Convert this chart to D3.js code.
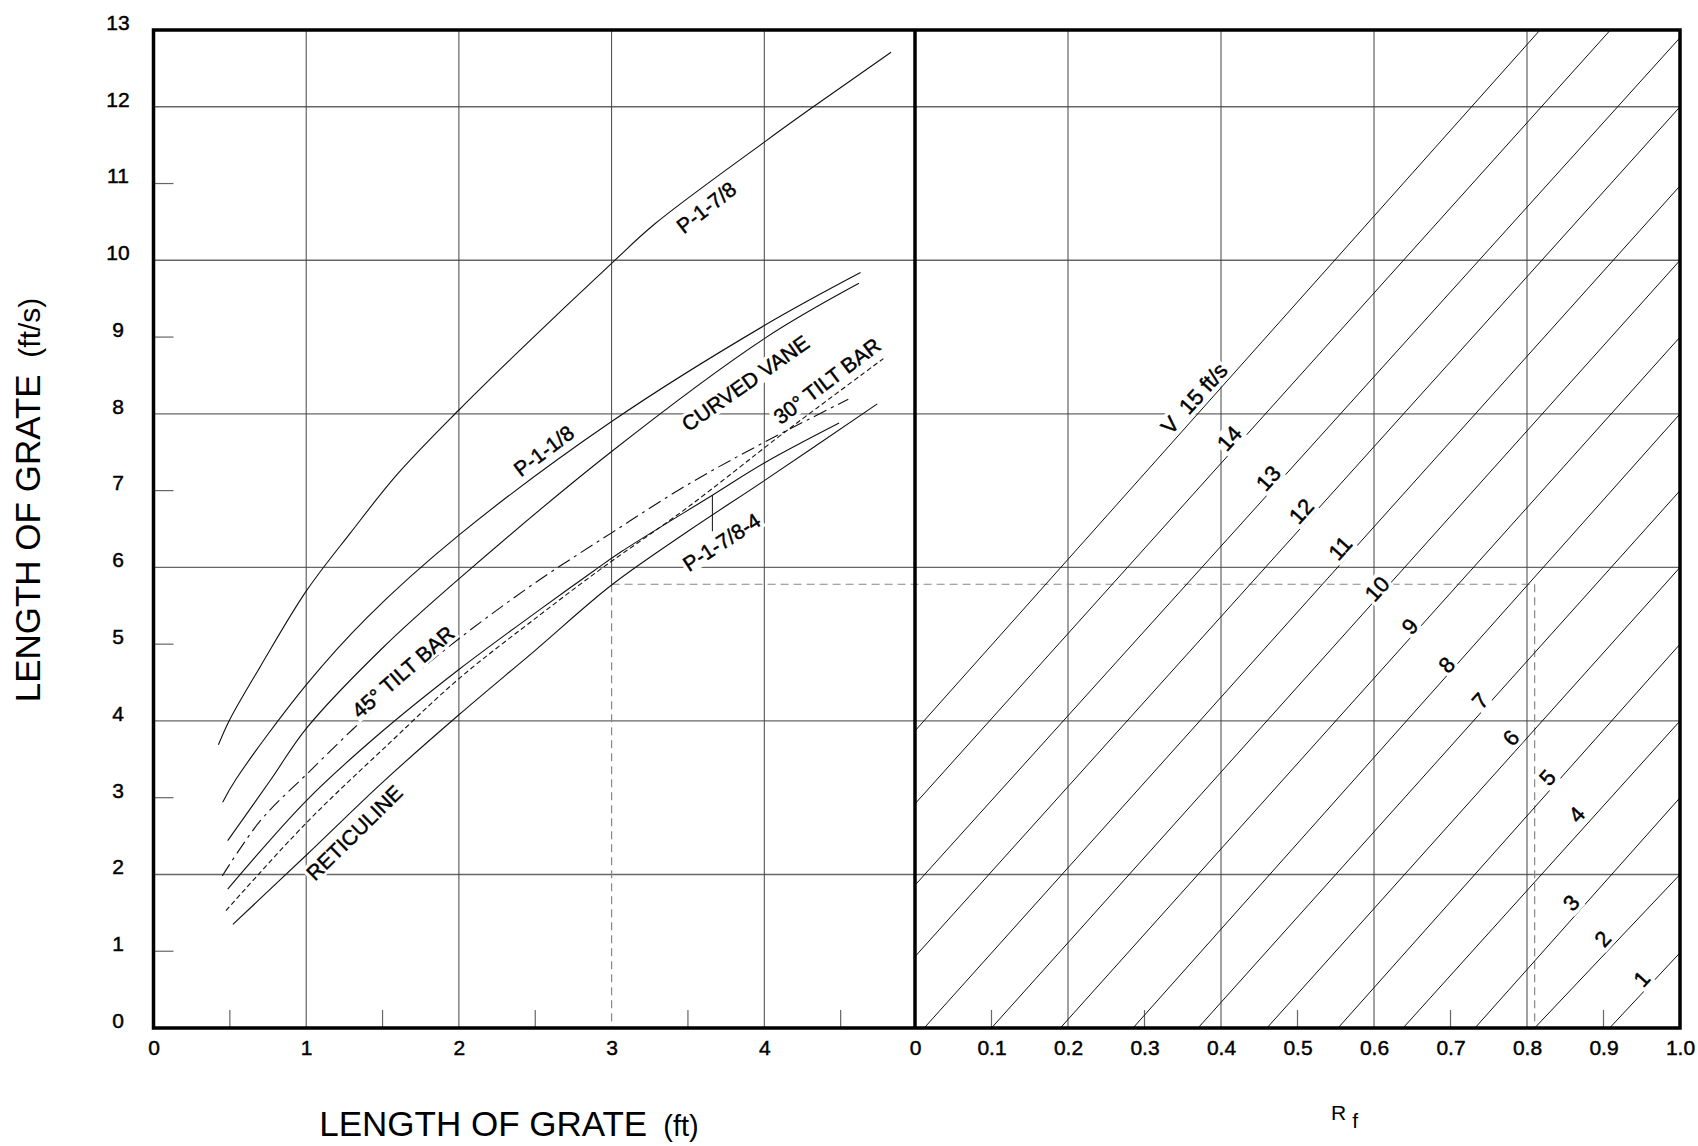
<!DOCTYPE html>
<html>
<head>
<meta charset="utf-8">
<script src="https://cdn.jsdelivr.net/npm/d3@7/dist/d3.min.js"></script>
<style>
    body { margin: 0; background: #fff; }
    text { font-family: "Liberation Sans", Arial, Helvetica, sans-serif; fill: #000; }
    .heavy { stroke: #000; stroke-width: 0.45px; }
</style>
</head>
<body>
<div id="chart"></div>
<script>
// ---- left panel curves: [length of grate (ft), value (ft/s)] ----
var p178 = [[0.425, 3.69], [0.5, 4.02], [0.7, 4.71], [1.0, 5.69], [1.29, 6.45], [1.6, 7.22], [2.0, 8.05], [2.4, 8.83], [3.0, 9.96], [3.28, 10.47], [4.0, 11.54], [4.3, 11.97], [4.83, 12.71]];
var p118 = [[0.453, 2.94], [0.54, 3.24], [1.0, 4.47], [1.4, 5.35], [2.0, 6.42], [3.0, 7.9], [4.0, 9.15], [4.63, 9.84]];
var curvedVane = [[0.486, 2.44], [0.77, 3.24], [1.0, 3.9], [1.5, 4.95], [2.0, 5.85], [3.0, 7.51], [4.0, 8.98], [4.62, 9.7]];
var tilt45 = [[0.45, 1.98], [0.7, 2.7], [1.0, 3.3], [1.5, 4.25], [2.0, 5.07], [2.5, 5.8], [3.0, 6.45], [3.5, 7.08], [4.0, 7.63], [4.55, 8.19]];
var tilt30 = [[0.475, 1.53], [1.0, 2.67], [1.55, 3.72], [2.0, 4.55], [2.53, 5.38], [2.93, 5.98], [3.49, 6.77], [4.08, 7.68], [4.28, 7.98], [4.78, 8.72]];
var p1784 = [[0.486, 1.81], [1.0, 2.96], [1.46, 3.8], [2.0, 4.67], [2.53, 5.45], [2.88, 5.95], [3.06, 6.2], [3.66, 6.94], [4.0, 7.36], [4.49, 7.88]];
var reticuline = [[0.52, 1.35], [1.0, 2.25], [1.5, 3.2], [2.0, 4.08], [2.5, 4.92], [3.0, 5.77], [3.5, 6.47], [4.0, 7.13], [4.74, 8.13]];

// ---- right panel: velocity lines, end points read as (Rf, ft/s) ----
var velocities = [15, 14, 13, 12, 11, 10, 9, 8, 7, 6, 5, 4, 3, 2, 1];
var vStartRf = [0, 0, 0, 0, 0.012, 0.10, 0.19, 0.285, 0.37, 0.46, 0.553, 0.638, 0.732, 0.81, 0.908];
var vStartVo = [3.87, 2.92, 1.86, 0.93, 0, 0, 0, 0, 0, 0, 0, 0, 0, 0, 0];
var vEndRf = [0.817, 0.909, 1, 1, 1, 1, 1, 1, 1, 1, 1, 1, 1, 1, 1];
var vEndVo = [13, 13, 12.9, 12, 10.97, 10, 9, 8, 7, 6, 5, 4, 3, 2, 0.98];

// ---- example read-off (dashed construction) ----
var exampleLength = 3;
var exampleVo = 5.78;
var exampleRf = 0.81;

// ---- tick labels ----
var yTicks = [0, 1, 2, 3, 4, 5, 6, 7, 8, 9, 10, 11, 12, 13];
var xLeftTicks = [0, 1, 2, 3, 4];
var xRightTicks = [0, 0.1, 0.2, 0.3, 0.4, 0.5, 0.6, 0.7, 0.8, 0.9, 1.0];

var width = 1698, height = 1146;

var svg = d3.select("#chart").append("svg")
    .attr("width", width)
    .attr("height", height);

var xL = d3.scaleLinear().domain([0, 5]).range([153.5, 917]);
var xR = d3.scaleLinear().domain([0, 1]).range([915, 1680]);
var y = d3.scaleLinear().domain([0, 13]).range([1028, 30]);

var gridColor = "#666";

// horizontal grid (both panels)
svg.append("g").selectAll("line")
    .data([2, 4, 6, 8, 10, 12])
    .enter().append("line")
    .attr("x1", xL(0)).attr("x2", xR(1))
    .attr("y1", function (d) { return y(d); })
    .attr("y2", function (d) { return y(d); })
    .attr("stroke", gridColor)
    .attr("stroke-width", 1.4);

// vertical grid, left panel (x = 3 stops where the example line begins)
svg.append("g").selectAll("line")
    .data([1, 2, 3, 4])
    .enter().append("line")
    .attr("x1", function (d) { return xL(d); })
    .attr("x2", function (d) { return xL(d); })
    .attr("y1", y(13))
    .attr("y2", function (d) { return d === exampleLength ? y(exampleVo) : y(0); })
    .attr("stroke", "#444")
    .attr("stroke-width", 1);

// vertical grid, right panel
svg.append("g").selectAll("line")
    .data([0.2, 0.4, 0.6, 0.8])
    .enter().append("line")
    .attr("x1", function (d) { return xR(d); })
    .attr("x2", function (d) { return xR(d); })
    .attr("y1", y(13)).attr("y2", y(0))
    .attr("stroke", "#444")
    .attr("stroke-width", 1);

// short ticks
var tickG = svg.append("g").attr("stroke", gridColor).attr("stroke-width", 1.2);
tickG.selectAll(".ty")
    .data([1, 3, 5, 7, 9, 11])
    .enter().append("line")
    .attr("x1", xL(0)).attr("x2", xL(0) + 20)
    .attr("y1", function (d) { return y(d); })
    .attr("y2", function (d) { return y(d); });
tickG.selectAll(".txl")
    .data([0.5, 1.5, 2.5, 3.5, 4.5])
    .enter().append("line")
    .attr("x1", function (d) { return xL(d); })
    .attr("x2", function (d) { return xL(d); })
    .attr("y1", y(0)).attr("y2", y(0) - 18);
tickG.selectAll(".txr")
    .data([0.1, 0.3, 0.5, 0.7, 0.9])
    .enter().append("line")
    .attr("x1", function (d) { return xR(d); })
    .attr("x2", function (d) { return xR(d); })
    .attr("y1", y(0)).attr("y2", y(0) - 18);

// dashed construction lines of the example
var dashG = svg.append("g")
    .attr("stroke", "#888")
    .attr("stroke-width", 1.2)
    .attr("stroke-dasharray", "8,5")
    .attr("fill", "none");
dashG.append("line")
    .attr("x1", xL(exampleLength)).attr("x2", xR(exampleRf))
    .attr("y1", y(exampleVo)).attr("y2", y(exampleVo));
dashG.append("line")
    .attr("x1", xL(exampleLength)).attr("x2", xL(exampleLength))
    .attr("y1", y(exampleVo)).attr("y2", y(0));
dashG.append("line")
    .attr("x1", xR(exampleRf)).attr("x2", xR(exampleRf))
    .attr("y1", y(exampleVo)).attr("y2", y(0));

// velocity lines (right panel)
svg.append("g").selectAll("line")
    .data(velocities)
    .enter().append("line")
    .attr("x1", function (d, i) { return xR(vStartRf[i]); })
    .attr("y1", function (d, i) { return y(vStartVo[i]); })
    .attr("x2", function (d, i) { return xR(vEndRf[i]); })
    .attr("y2", function (d, i) { return y(vEndVo[i]); })
    .attr("stroke", "#111")
    .attr("stroke-width", 1);

// grate curves (left panel)
var line = d3.line()
    .x(function (d) { return xL(d[0]); })
    .y(function (d) { return y(d[1]); })
    .curve(d3.curveCatmullRom.alpha(0.5));

var curves = [
    { data: p178, dash: null },
    { data: p118, dash: null },
    { data: curvedVane, dash: null },
    { data: tilt45, dash: "14,5,3,5" },
    { data: tilt30, dash: "5,3" },
    { data: p1784, dash: null },
    { data: reticuline, dash: null }
];
svg.append("g").selectAll("path")
    .data(curves)
    .enter().append("path")
    .attr("d", function (d) { return line(d.data); })
    .attr("fill", "none")
    .attr("stroke", "#111")
    .attr("stroke-width", 1.1)
    .attr("stroke-dasharray", function (d) { return d.dash; });

// leader from the P-1-7/8-4 label up to its curve
svg.append("line")
    .attr("x1", xL(3.66)).attr("x2", xL(3.66))
    .attr("y1", y(6.94)).attr("y2", y(6.47))
    .attr("stroke", "#111")
    .attr("stroke-width", 1);

// rotated label with a white box behind it
function addLabel(parent, txt, px, py, angle, size) {
    var g = parent.append("g")
        .attr("transform", "translate(" + px + "," + py + ") rotate(" + angle + ")");
    var bg = g.append("rect").attr("fill", "#fff");
    var t = g.append("text")
        .attr("class", "heavy")
        .attr("text-anchor", "middle")
        .attr("dominant-baseline", "central")
        .style("font-size", size + "px")
        .style("white-space", "pre")
        .text(txt);
    var b = t.node().getBBox();
    bg.attr("x", b.x - 2).attr("y", b.y + 1)
        .attr("width", b.width + 4).attr("height", b.height - 2);
    return g;
}

var labelG = svg.append("g");
addLabel(labelG, "P-1-7/8", xL(3.62), y(10.69), -38, 21);
addLabel(labelG, "P-1-1/8", xL(2.556), y(7.52), -37, 21);
addLabel(labelG, "CURVED VANE", xL(3.876), y(8.4), -35, 21);
addLabel(labelG, "30\u00B0 TILT BAR", xL(4.41), y(8.43), -37, 21);
addLabel(labelG, "P-1-7/8-4", xL(3.72), y(6.33), -33, 21);
addLabel(labelG, "45\u00B0 TILT BAR", xL(1.634), y(4.64), -41, 21);
addLabel(labelG, "RETICULINE", xL(1.315), y(2.545), -44.5, 21);

// velocity labels sit on their lines, same slope as the lines
var vAngle = Math.atan2(y(vEndVo[2]) - y(vStartVo[2]), xR(vEndRf[2]) - xR(vStartRf[2])) * 180 / Math.PI;
var vLabelPos = [[0.365, 8.2], [0.411, 7.68], [0.462, 7.16], [0.505, 6.73], [0.556, 6.25], [0.604, 5.72], [0.647, 5.23],
    [0.695, 4.73], [0.739, 4.26], [0.779, 3.78], [0.827, 3.26], [0.865, 2.78], [0.858, 1.63], [0.899, 1.16], [0.95, 0.64]];
velocities.forEach(function (v, i) {
    var txt = i === 0 ? "V  " + v + " ft/s" : String(v);
    addLabel(labelG, txt, xR(vLabelPos[i][0]), y(vLabelPos[i][1]), vAngle, 22);
});

// axes (labels only)
var yAxis = svg.append("g")
    .attr("transform", "translate(" + xL(0) + ",0)")
    .call(d3.axisLeft(y).tickValues(yTicks).tickSize(0).tickFormat(d3.format("d")));
yAxis.select(".domain").remove();
yAxis.selectAll("text")
    .attr("class", "heavy")
    .attr("x", -35.5)
    .attr("dy", "0.35em")
    .attr("y", -8)
    .attr("text-anchor", "middle")
    .style("font-size", "21px")
    .style("font-family", null);

var xAxisL = svg.append("g")
    .attr("transform", "translate(0," + y(0) + ")")
    .call(d3.axisBottom(xL).tickValues(xLeftTicks).tickSize(0).tickFormat(d3.format("d")));
var xAxisR = svg.append("g")
    .attr("transform", "translate(0," + y(0) + ")")
    .call(d3.axisBottom(xR).tickValues(xRightTicks).tickSize(0)
        .tickFormat(function (d) { return d === 0 ? "0" : d3.format(".1f")(d); }));
[xAxisL, xAxisR].forEach(function (ax) {
    ax.select(".domain").remove();
    ax.selectAll("text")
        .attr("class", "heavy")
        .attr("y", 20)
        .attr("dy", "0.35em")
        .style("font-size", "21px")
        .style("font-family", null);
});

// frame: outer border and panel divider
var frame = svg.append("g").attr("stroke", "#000").attr("fill", "none").attr("stroke-width", 3.5);
frame.append("rect")
    .attr("x", xL(0)).attr("y", y(13))
    .attr("width", xR(1) - xL(0))
    .attr("height", y(0) - y(13));
frame.append("line")
    .attr("x1", xR(0)).attr("x2", xR(0))
    .attr("y1", y(13)).attr("y2", y(0));

// titles
var yTitle = svg.append("text")
    .attr("transform", "translate(40,500) rotate(-90)")
    .attr("text-anchor", "middle")
    .style("white-space", "pre");
yTitle.append("tspan").style("font-size", "35px").text("LENGTH OF GRATE");
yTitle.append("tspan").style("font-size", "30px").text("  (ft/s)");

var xTitle = svg.append("text")
    .attr("x", 509).attr("y", 1136)
    .attr("text-anchor", "middle")
    .style("white-space", "pre");
xTitle.append("tspan").style("font-size", "35px").text("LENGTH OF GRATE");
xTitle.append("tspan").style("font-size", "29px").text("  (ft)");

var rf = svg.append("text")
    .attr("x", 1331).attr("y", 1120)
    .style("font-size", "21px");
rf.append("tspan").text("R");
rf.append("tspan").attr("dx", 6).attr("dy", 8).text("f");
</script>
</body>
</html>
